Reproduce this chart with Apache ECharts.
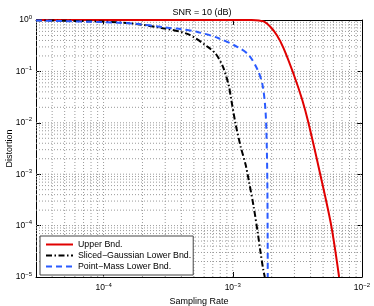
<!DOCTYPE html>
<html><head><meta charset="utf-8">
<script src="https://cdn.jsdelivr.net/npm/echarts@6/dist/echarts.min.js"></script>
<style>html,body{margin:0;padding:0;background:#fff}#c{width:374px;height:306px}</style>
</head><body><div id="c"></div>
<script>
// ---- data ----
const upperX = [3e-5, 1e-4, 1e-3, 1.4e-3, 1.6e-3, 1.75e-3, 1.96e-3, 2.2e-3, 2.47e-3, 2.94e-3, 3.45e-3, 3.85e-3, 4.75e-3, 5.78e-3, 6.65e-3];
const upperY = [1, 1, 1, 0.995, 0.975, 0.93, 0.73, 0.5, 0.285, 0.092, 0.0278, 0.01, 1e-3, 1e-4, 1e-5];
const slicedX = [3e-5, 1e-4, 1.7e-4, 2.8e-4, 4.5e-4, 6.4e-4, 7.4e-4, 8.4e-4, 9.3e-4, 9.65e-4, 1.055e-3, 1.153e-3, 1.259e-3, 1.328e-3, 1.45e-3, 1.56e-3, 1.64e-3, 1.72e-3, 1.77e-3];
const slicedY = [0.985, 0.93, 0.85, 0.70, 0.53, 0.30, 0.218, 0.122, 0.054, 0.0318, 0.00906, 0.00338, 0.00151, 7.7e-4, 2.35e-4, 7.3e-5, 3.0e-5, 1.4e-5, 1e-5];
const pointX = [3e-5, 9.7e-5, 1.73e-4, 2.94e-4, 4e-4, 5.4e-4, 7.7e-4, 1.09e-3, 1.33e-3, 1.56e-3, 1.7e-3, 1.79e-3, 1.83e-3, 1.85e-3, 1.86e-3, 1.865e-3];
const pointY = [0.98, 0.91, 0.85, 0.72, 0.66, 0.58, 0.446, 0.298, 0.208, 0.106, 0.054, 0.0178, 4e-3, 8e-4, 1e-4, 1e-5];
const seriesNames = ['Upper Bnd.', 'Sliced\u2212Gaussian Lower Bnd.', 'Point\u2212Mass Lower Bnd.'];
const xMin = 3e-5, xMax = 1e-2, yMin = 1e-5, yMax = 1;
const xDecades = [-5, -4, -3, -2];
const yDecades = [-5, -4, -3, -2, -1, 0];
const mantissas = [1, 2, 3, 4, 5, 6, 7, 8, 9];

// ---- helpers ----
const FONT = 'Liberation Sans, Arial, Helvetica, sans-serif';
function pairs(xs, ys) { return xs.map((x, i) => [x, ys[i]]); }
function gridVals(decs, lo, hi) {
  const out = [];
  decs.forEach(e => mantissas.forEach(m => {
    const v = m * Math.pow(10, e);
    if (v > lo * 1.0001 && v < hi * 0.9999) out.push(v);
  }));
  return out;
}
function powLabel(v) {
  const e = Math.round(Math.log10(v));
  if (Math.abs(v - Math.pow(10, e)) > 1e-9 * Math.pow(10, e)) return '';
  const s = e < 0 ? '\u2212' + (-e) : String(e);
  return '{b|10}{s|' + s + '}';
}
const rich = {
  b: { fontSize: 8.5, fontFamily: FONT, color: '#000' },
  s: { fontSize: 6, fontFamily: FONT, color: '#000', padding: [0, 0, 6, 0] }
};
const tickStyle = { inside: true, length: 5, lineStyle: { color: '#000', width: 1 } };
const lineAx = { lineStyle: { color: '#000', width: 1 } };
const gridLineStyle = { type: [1, 2], color: '#9a9a9a', width: 1 };

function gridSeries() {
  const out = [];
  gridVals(xDecades, xMin, xMax).forEach(v => out.push([[v, yMin], [v, yMax]]));
  gridVals(yDecades, yMin, yMax).forEach(v => out.push([[xMin, v], [xMax, v]]));
  return out.map(d => ({
    type: 'line', data: d, symbol: 'none', silent: true, z: 1,
    lineStyle: gridLineStyle, emphasis: { disabled: true }, tooltip: { show: false }
  }));
}

const chart = echarts.init(document.getElementById('c'), null, { renderer: 'canvas' });
chart.setOption({
  animation: false,
  backgroundColor: '#fff',
  textStyle: { fontFamily: FONT },
  title: {
    text: 'SNR = 10 (dB)', left: 197, top: 3, textAlign: 'center',
    textStyle: { fontSize: 9, fontWeight: 'normal', color: '#000', fontFamily: FONT }
  },
  grid: { left: 36, right: 12, top: 20, bottom: 29, containLabel: false, outerBoundsMode: 'none' },
  legend: {
    data: seriesNames, orient: 'vertical', left: 40, top: 236,
    itemWidth: 27, itemHeight: 8, itemGap: 2, padding: [4, 2, 4, 5],
    backgroundColor: '#fff', borderColor: '#444', borderWidth: 1,
    itemStyle: { opacity: 0 },
    textStyle: { fontSize: 8.8, color: '#000', fontFamily: FONT }
  },
  xAxis: [{
    type: 'log', logBase: 10, min: xMin, max: xMax,
    name: 'Sampling Rate', nameLocation: 'middle', nameGap: 19,
    nameTextStyle: { fontSize: 9, color: '#000', fontFamily: FONT },
    axisLine: lineAx, axisTick: tickStyle, splitLine: { show: false },
    axisLabel: { formatter: powLabel, rich: rich, margin: 5 }
  }, {
    type: 'log', logBase: 10, min: xMin, max: xMax, position: 'top',
    axisLine: lineAx, axisTick: tickStyle, splitLine: { show: false },
    axisLabel: { show: false }
  }],
  yAxis: [{
    type: 'log', logBase: 10, min: yMin, max: yMax,
    name: 'Distortion', nameLocation: 'middle', nameGap: 22, nameRotate: 90,
    nameMoveOverlap: false,
    nameTextStyle: { fontSize: 9, color: '#000', fontFamily: FONT },
    axisLine: lineAx, axisTick: tickStyle, splitLine: { show: false },
    axisLabel: { formatter: powLabel, rich: rich, margin: 4 }
  }, {
    type: 'log', logBase: 10, min: yMin, max: yMax, position: 'right',
    axisLine: lineAx, axisTick: tickStyle, splitLine: { show: false },
    axisLabel: { show: false }
  }],
  series: gridSeries().concat([{
    name: seriesNames[0], type: 'line', symbol: 'none', smooth: 0.3, z: 3,
    data: pairs(upperX, upperY),
    lineStyle: { color: '#e00000', width: 2 }, itemStyle: { color: '#e00000' }
  }, {
    name: seriesNames[1], type: 'line', symbol: 'none', smooth: 0.3, z: 3,
    data: pairs(slicedX, slicedY),
    lineStyle: { color: '#000', width: 2, type: [6, 2.5, 1.5, 2.5] }, itemStyle: { color: '#000' }
  }, {
    name: seriesNames[2], type: 'line', symbol: 'none', smooth: 0.3, z: 3,
    data: pairs(pointX, pointY),
    lineStyle: { color: '#2a5bff', width: 2, type: [6, 4] }, itemStyle: { color: '#2a5bff' }
  }])
});
</script></body></html>
